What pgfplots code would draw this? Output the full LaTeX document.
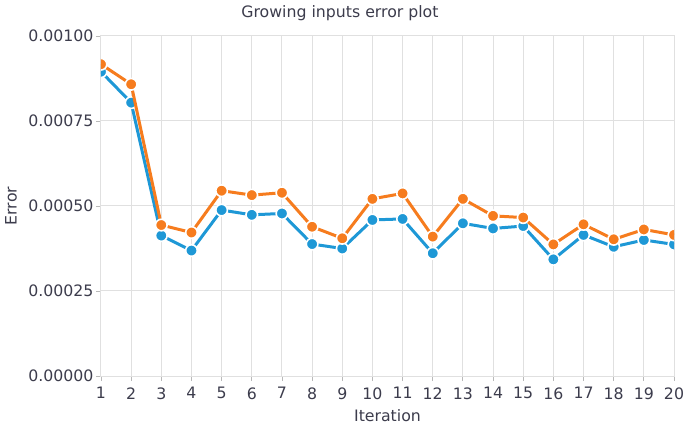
\documentclass[border=0pt]{standalone}
\usepackage{fontspec}
\setmainfont{DejaVu Sans}
\usepackage{pgfplots}
\pgfplotsset{compat=1.18}
\definecolor{sblue}{RGB}{30,152,214}
\definecolor{sorange}{RGB}{246,124,30}
\definecolor{txt}{RGB}{60,60,76}
\definecolor{grd}{RGB}{224,224,224}
\begin{document}
\begin{tikzpicture}
\useasboundingbox (-101bp,-53bp) rectangle (584bp,376bp);
\begin{axis}[
  scale only axis, width=573bp, height=340bp,
  xmin=1, xmax=20, ymin=0, ymax=0.001,
  xtick={1,...,20},
  ytick={0,0.00025,0.0005,0.00075,0.001},
  scaled y ticks=false,
  /pgf/number format/assume math mode=true,
  yticklabel style={/pgf/number format/fixed,/pgf/number format/fixed zerofill,/pgf/number format/precision=5, xshift=1bp},
  xticklabel style={yshift=-3bp},
  tick label style={font=\fontsize{15.8}{18}\selectfont, text=txt},
  grid=major, major grid style={draw=grd, line width=1bp},
  axis line style={draw=grd, line width=1bp},
  tick style={draw=gray!55, line width=0.8bp},
  tick align=outside, major tick length=5bp,
  xtick pos=left, ytick pos=left,
  xlabel={Iteration}, ylabel={Error},
  label style={font=\fontsize{15.8}{18}\selectfont, text=txt},
  xlabel style={at={(axis description cs:0.5,0)}, anchor=center, yshift=-40bp},
  ylabel style={at={(axis description cs:-0.157,0.5)}, anchor=center},
  title={Growing inputs error plot},
  title style={font=\fontsize{15.8}{18}\selectfont, text=txt, at={(axis description cs:0.417,1)}, anchor=base, yshift=13bp},
  clip marker paths=true,
]
\addplot[sblue, line width=3bp, mark=*, mark size=5.8bp, mark options={fill=sblue, draw=white, line width=1.6bp}] coordinates {
(1,0.000895) (2,0.000804) (3,0.000413) (4,0.000369) (5,0.000488) (6,0.000474) (7,0.000478) (8,0.000388) (9,0.000375) (10,0.000459)
(11,0.000462) (12,0.000361) (13,0.000449) (14,0.000434) (15,0.000441) (16,0.000343) (17,0.000415) (18,0.000380) (19,0.000400) (20,0.000387)
};
\addplot[sorange, line width=3bp, mark=*, mark size=5.8bp, mark options={fill=sorange, draw=white, line width=1.6bp}] coordinates {
(1,0.000917) (2,0.000858) (3,0.000444) (4,0.000422) (5,0.000545) (6,0.000532) (7,0.000539) (8,0.000439) (9,0.000405) (10,0.000521)
(11,0.000537) (12,0.000410) (13,0.000521) (14,0.000471) (15,0.000466) (16,0.000387) (17,0.000446) (18,0.000402) (19,0.000431) (20,0.000415)
};
\end{axis}
\end{tikzpicture}
\end{document}
